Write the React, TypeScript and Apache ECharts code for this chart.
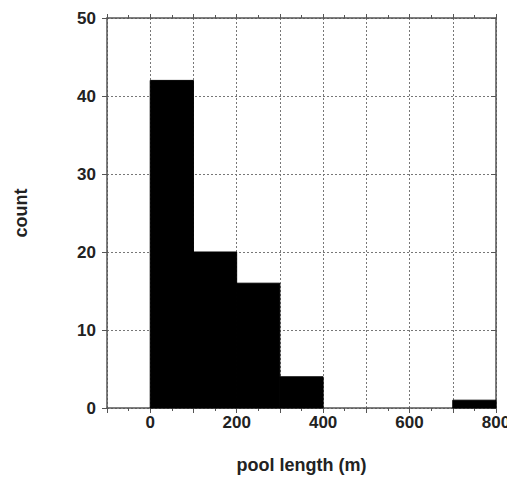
import React, { useEffect, useRef } from "react";
import * as echarts from "echarts";

// Histogram bins: [start, end] in metres and their counts
const binStarts = [0, 100, 200, 300, 700];
const binEnds = [100, 200, 300, 400, 800];
const counts = [42, 20, 16, 4, 1];

const xLabels = [0, 200, 400, 600, 800];
const yLabels = [0, 10, 20, 30, 40, 50];

const FONT = "'Liberation Sans', Arial, sans-serif";

export default function App() {
  const ref = useRef<HTMLDivElement>(null);

  useEffect(() => {
    if (!ref.current) return;
    const chart = echarts.init(ref.current, undefined, { renderer: "svg" });

    const data = binStarts.map((s, i) => [s, binEnds[i], counts[i]]);

    const axisLineStyle = { color: "#555", width: 1.5 };
    const gridStyle = { color: "#777", type: [2, 2] as number[], width: 1 };
    const labelStyle = { fontFamily: FONT, fontWeight: "bold", fontSize: 17, color: "#222" };
    const nameStyle = { fontFamily: FONT, fontWeight: "bold", fontSize: 18, color: "#222" };

    chart.setOption({
      animation: false,
      backgroundColor: "#fff",
      grid: {
        left: 107,
        top: 18,
        right: 11,
        bottom: 72,
        containLabel: false,
        outerBoundsMode: "none",
      },
      xAxis: [
        {
          type: "value",
          min: -100,
          max: 800,
          interval: 100,
          position: "bottom",
          name: "pool length (m)",
          nameLocation: "middle",
          nameGap: 48,
          nameTextStyle: nameStyle,
          axisLine: { show: true, onZero: false, lineStyle: axisLineStyle },
          axisTick: { show: true, inside: false, length: 5, lineStyle: { color: "#555" } },
          minorTick: { show: true, splitNumber: 2, length: 3, lineStyle: { color: "#555" } },
          axisLabel: {
            ...labelStyle,
            margin: 6,
            formatter: (v: number) => (xLabels.includes(v) ? String(v) : ""),
          },
          splitLine: { show: true, lineStyle: gridStyle },
        },
        {
          type: "value",
          min: -100,
          max: 800,
          interval: 100,
          position: "top",
          axisLine: { show: true, onZero: false, lineStyle: axisLineStyle },
          axisTick: { show: true, inside: false, length: 4, lineStyle: { color: "#555" } },
          minorTick: { show: true, splitNumber: 2, length: 3, lineStyle: { color: "#555" } },
          axisLabel: { show: false },
          splitLine: { show: false },
        },
      ],
      yAxis: [
        {
          type: "value",
          min: 0,
          max: 50,
          interval: 10,
          position: "left",
          name: "count",
          nameLocation: "middle",
          nameGap: 77,
          nameRotate: 90,
          nameTextStyle: nameStyle,
          axisLine: { show: true, onZero: false, lineStyle: axisLineStyle },
          axisTick: { show: true, inside: false, length: 5, lineStyle: { color: "#555" } },
          axisLabel: {
            ...labelStyle,
            margin: 11,
            formatter: (v: number) => (yLabels.includes(v) ? String(v) : ""),
          },
          splitLine: { show: true, lineStyle: gridStyle },
        },
        {
          type: "value",
          min: 0,
          max: 50,
          interval: 10,
          position: "right",
          axisLine: { show: true, onZero: false, lineStyle: axisLineStyle },
          axisTick: { show: true, inside: true, length: 5, lineStyle: { color: "#555" } },
          axisLabel: { show: false },
          splitLine: { show: false },
        },
      ],
      series: [
        {
          type: "custom",
          xAxisIndex: 0,
          yAxisIndex: 0,
          data,
          renderItem: (_params: any, api: any) => {
            const p0 = api.coord([api.value(0), api.value(2)]);
            const p1 = api.coord([api.value(1), 0]);
            return {
              type: "rect",
              shape: { x: p0[0], y: p0[1], width: p1[0] - p0[0], height: p1[1] - p0[1] },
              style: { fill: "#000", stroke: "#000", lineWidth: 1 },
            };
          },
          encode: { x: [0, 1], y: 2 },
          z: 3,
        },
      ],
    });

    return () => chart.dispose();
  }, []);

  return <div ref={ref} style={{ width: 507, height: 480, position: "absolute", left: 0, top: 0 }} />;
}
